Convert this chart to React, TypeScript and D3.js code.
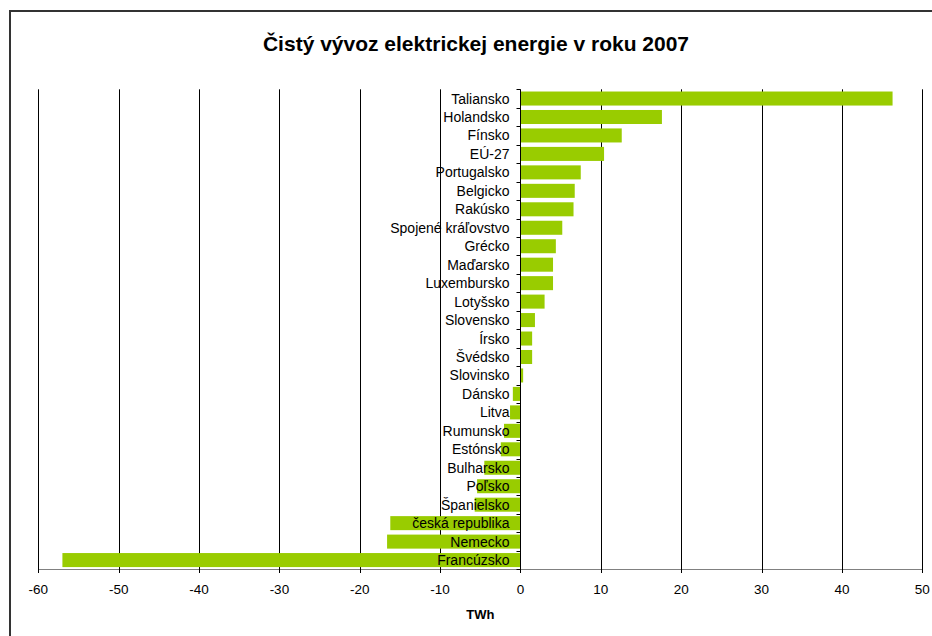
import React from "react";
import * as d3 from "d3";

const categories = [
  "Taliansko", "Holandsko", "Fínsko", "EÚ-27", "Portugalsko", "Belgicko", "Rakúsko",
  "Spojené kráľovstvo", "Grécko", "Maďarsko", "Luxembursko", "Lotyšsko", "Slovensko",
  "Írsko", "Švédsko", "Slovinsko", "Dánsko", "Litva", "Rumunsko", "Estónsko",
  "Bulharsko", "Poľsko", "Španielsko", "česká republika", "Nemecko", "Francúzsko",
];
const values = [
  46.3, 17.6, 12.6, 10.4, 7.5, 6.75, 6.6, 5.2, 4.4, 4.05, 4.05, 3.0, 1.8,
  1.45, 1.45, 0.33, -0.95, -1.3, -2.05, -2.45, -4.5, -5.4, -5.7, -16.2, -16.6, -57.0,
];
const xTicks = [-60, -50, -40, -30, -20, -10, 0, 10, 20, 30, 40, 50];
const title = "Čistý vývoz elektrickej energie v roku 2007";
const xLabel = "TWh";

const W = 932;
const H = 636;
const left = 38.3;
const right = 922.3;
const top = 89.3;
const bottom = 569.3;
const font = "'Liberation Sans', Arial, sans-serif";

export default function App() {
  const x = d3.scaleLinear().domain([-60, 50]).range([left, right]);
  const y = d3
    .scaleBand<string>()
    .domain(categories)
    .range([top, bottom])
    .paddingInner(0.24)
    .paddingOuter(0.12);
  const step = (bottom - top) / categories.length;
  const zx = Math.round(x(0)) + 0.5;
  const rx = (v: number) => Math.round(x(v)) + 0.5;

  return (
    <svg
      width={W}
      height={H}
      style={{ position: "fixed", left: 0, top: 0, background: "#fff" }}
      fontFamily={font}
    >
      <rect x={0} y={0} width={W} height={H} fill="#fff" />
      <rect x={10} y={11} width={950} height={660} fill="none" stroke="#333" strokeWidth={2} />
      <text x={476} y={51} textAnchor="middle" fontSize={21} fontWeight="bold" fill="#000">
        {title}
      </text>
      {xTicks.map((t) =>
        t === 0 ? null : (
          <line key={"g" + t} x1={rx(t)} x2={rx(t)} y1={top} y2={bottom} stroke="#000" strokeWidth={1} />
        )
      )}
      {categories.map((c, i) => {
        const v = values[i];
        const x0 = x(Math.min(0, v));
        const x1 = x(Math.max(0, v));
        return (
          <rect
            key={"b" + c}
            x={x0}
            y={y(c)!}
            width={x1 - x0}
            height={y.bandwidth()}
            fill="#99CC00"
          />
        );
      })}
      <line x1={rx(-60)} x2={rx(50)} y1={Math.round(bottom) + 0.5} y2={Math.round(bottom) + 0.5} stroke="#808080" strokeWidth={1} />
      {xTicks.map((t) => (
        <g key={"t" + t}>
          <line x1={rx(t)} x2={rx(t)} y1={Math.round(bottom)} y2={Math.round(bottom) + 4} stroke="#000" strokeWidth={1} />
          <text x={x(t)} y={594} textAnchor="middle" fontSize={13.5} fill="#000">
            {t}
          </text>
        </g>
      ))}
      <line x1={zx} x2={zx} y1={top} y2={bottom} stroke="#000" strokeWidth={1} />
      {d3.range(categories.length + 1).map((i) => (
        <line
          key={"ct" + i}
          x1={zx - 4}
          x2={zx}
          y1={Math.round(top + i * step) + 0.5}
          y2={Math.round(top + i * step) + 0.5}
          stroke="#000"
          strokeWidth={1}
        />
      ))}
      {categories.map((c) => (
        <text
          key={"l" + c}
          x={509.5}
          y={y(c)! + y.bandwidth() / 2}
          dy="0.36em"
          textAnchor="end"
          fontSize={14}
          fill="#000"
        >
          {c}
        </text>
      ))}
      <text x={(left + right) / 2} y={619} textAnchor="middle" fontSize={13} fontWeight="bold" fill="#000">
        {xLabel}
      </text>
    </svg>
  );
}
